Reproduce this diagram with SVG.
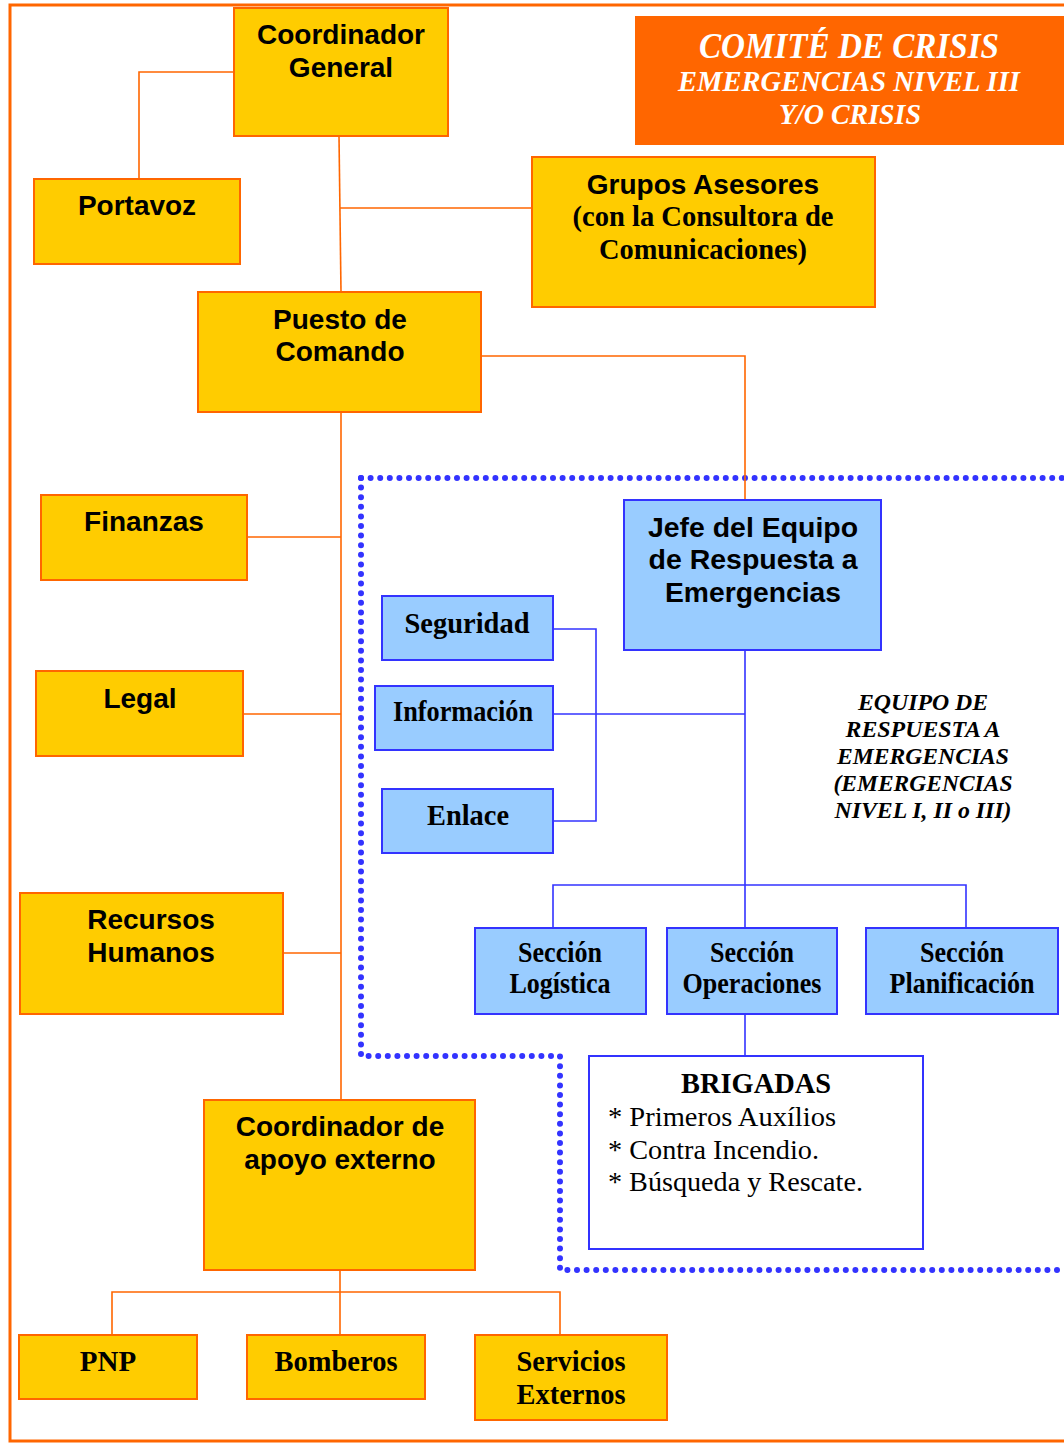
<svg xmlns="http://www.w3.org/2000/svg" width="1064" height="1443" viewBox="0 0 1064 1443">
<style>
.o{fill:#FFCC00;stroke:#FF6600;stroke-width:2}
.b{fill:#99CCFF;stroke:#3333FF;stroke-width:2}
.w{fill:#FFFFFF;stroke:#3333FF;stroke-width:2}
.oc{fill:none;stroke:#FF6600;stroke-width:1.6}
.bc{fill:none;stroke:#3333FF;stroke-width:1.6}
.dot{fill:none;stroke:#3333FF;stroke-width:6;stroke-linecap:round;stroke-dasharray:0 9.6}
.a{font-family:"Liberation Sans",Arial,sans-serif;font-weight:bold;font-size:28px;fill:#000;text-anchor:middle}
.t{font-family:"Liberation Serif","Times New Roman",serif;font-weight:bold;font-size:29px;fill:#000;text-anchor:middle}
.tr{font-family:"Liberation Serif","Times New Roman",serif;font-size:28px;fill:#000}
.ti{font-family:"Liberation Serif","Times New Roman",serif;font-weight:bold;font-style:italic;font-size:24px;fill:#000;text-anchor:middle}
.ch{font-family:"Liberation Serif","Times New Roman",serif;font-weight:bold;font-style:italic;fill:#FFFFFF;text-anchor:middle}
</style>
<rect x="10" y="5" width="1062" height="1436" fill="#FFFFFF" stroke="#FF6600" stroke-width="3"/>
<g id="region">
<path class="dot" d="M361 478 H1064"/>
<path class="dot" d="M361 478 V1056 H560 V1270 H1064"/>
</g>
<g id="connectors">
<path class="oc" d="M234 72 H139 V179"/>
<path class="oc" d="M339 136 L341 292"/>
<path class="oc" d="M340 208 H532"/>
<path class="oc" d="M481 356 H745 V500"/>
<path class="oc" d="M341 412 V1100"/>
<path class="oc" d="M247 537 H341"/>
<path class="oc" d="M243 714 H341"/>
<path class="oc" d="M283 953 H341"/>
<path class="oc" d="M340 1270 V1335"/>
<path class="oc" d="M112 1335 V1292 H560 V1335"/>
<path class="bc" d="M553 629 H596 V821 H553"/>
<path class="bc" d="M553 714 H745"/>
<path class="bc" d="M745 650 V928"/>
<path class="bc" d="M553 928 V885 H966 V928"/>
<path class="bc" d="M745 1014 V1056"/>
</g>
<g id="comite">
<rect x="635" y="16" width="440" height="129" fill="#FF6600"/>
<text class="ch" x="849" y="58" font-size="36" textLength="300" lengthAdjust="spacingAndGlyphs">COMITÉ DE CRISIS</text>
<text class="ch" x="849" y="91" font-size="30" textLength="342" lengthAdjust="spacingAndGlyphs">EMERGENCIAS NIVEL III</text>
<text class="ch" x="850" y="124" font-size="30" textLength="142" lengthAdjust="spacingAndGlyphs">Y/O CRISIS</text>
</g>
<g id="coordinador-general">
<rect class="o" x="234" y="8" width="214" height="128"/>
<text class="a" x="341" y="44">Coordinador</text>
<text class="a" x="341" y="77">General</text>
</g>
<g id="portavoz">
<rect class="o" x="34" y="179" width="206" height="85"/>
<text class="a" x="137" y="215">Portavoz</text>
</g>
<g id="grupos-asesores">
<rect class="o" x="532" y="157" width="343" height="150"/>
<text class="a" x="703" y="194">Grupos Asesores</text>
<text class="t" x="703" y="226" textLength="261" lengthAdjust="spacingAndGlyphs">(con la Consultora de</text>
<text class="t" x="703" y="259" textLength="208" lengthAdjust="spacingAndGlyphs">Comunicaciones)</text>
</g>
<g id="puesto-de-comando">
<rect class="o" x="198" y="292" width="283" height="120"/>
<text class="a" x="340" y="329">Puesto de</text>
<text class="a" x="340" y="361">Comando</text>
</g>
<g id="finanzas">
<rect class="o" x="41" y="495" width="206" height="85"/>
<text class="a" x="144" y="531">Finanzas</text>
</g>
<g id="legal">
<rect class="o" x="36" y="671" width="207" height="85"/>
<text class="a" x="140" y="708">Legal</text>
</g>
<g id="recursos-humanos">
<rect class="o" x="20" y="893" width="263" height="121"/>
<text class="a" x="151" y="929">Recursos</text>
<text class="a" x="151" y="962">Humanos</text>
</g>
<g id="coordinador-apoyo">
<rect class="o" x="204" y="1100" width="271" height="170"/>
<text class="a" x="340" y="1136">Coordinador de</text>
<text class="a" x="340" y="1169">apoyo externo</text>
</g>
<g id="pnp">
<rect class="o" x="19" y="1335" width="178" height="64"/>
<text class="t" x="108" y="1371">PNP</text>
</g>
<g id="bomberos">
<rect class="o" x="247" y="1335" width="178" height="64"/>
<text class="t" x="336" y="1371" textLength="123" lengthAdjust="spacingAndGlyphs">Bomberos</text>
</g>
<g id="servicios-externos">
<rect class="o" x="475" y="1335" width="192" height="85"/>
<text class="t" x="571" y="1371" textLength="109" lengthAdjust="spacingAndGlyphs">Servicios</text>
<text class="t" x="571" y="1404" textLength="109" lengthAdjust="spacingAndGlyphs">Externos</text>
</g>
<g id="jefe">
<rect class="b" x="624" y="500" width="257" height="150"/>
<text class="a" x="753" y="537" textLength="210" lengthAdjust="spacingAndGlyphs">Jefe del Equipo</text>
<text class="a" x="753" y="569" textLength="209" lengthAdjust="spacingAndGlyphs">de Respuesta a</text>
<text class="a" x="753" y="602" textLength="176" lengthAdjust="spacingAndGlyphs">Emergencias</text>
</g>
<g id="seguridad">
<rect class="b" x="382" y="596" width="171" height="64"/>
<text class="t" x="467" y="633" textLength="125" lengthAdjust="spacingAndGlyphs">Seguridad</text>
</g>
<g id="informacion">
<rect class="b" x="375" y="686" width="178" height="64"/>
<text class="t" x="463" y="721" textLength="140" lengthAdjust="spacingAndGlyphs">Información</text>
</g>
<g id="enlace">
<rect class="b" x="382" y="789" width="171" height="64"/>
<text class="t" x="468" y="825" textLength="82" lengthAdjust="spacingAndGlyphs">Enlace</text>
</g>
<g id="seccion-logistica">
<rect class="b" x="475" y="928" width="171" height="86"/>
<text class="t" x="560" y="962" font-size="26" textLength="84" lengthAdjust="spacingAndGlyphs">Sección</text>
<text class="t" x="560" y="993" font-size="26" textLength="101" lengthAdjust="spacingAndGlyphs">Logística</text>
</g>
<g id="seccion-operaciones">
<rect class="b" x="667" y="928" width="170" height="86"/>
<text class="t" x="752" y="962" font-size="26" textLength="84" lengthAdjust="spacingAndGlyphs">Sección</text>
<text class="t" x="752" y="993" font-size="26" textLength="139" lengthAdjust="spacingAndGlyphs">Operaciones</text>
</g>
<g id="seccion-planificacion">
<rect class="b" x="866" y="928" width="192" height="86"/>
<text class="t" x="962" y="962" font-size="26" textLength="84" lengthAdjust="spacingAndGlyphs">Sección</text>
<text class="t" x="962" y="993" font-size="26" textLength="145" lengthAdjust="spacingAndGlyphs">Planificación</text>
</g>
<g id="brigadas">
<rect class="w" x="589" y="1056" width="334" height="193"/>
<text class="t" x="756" y="1093" textLength="150" lengthAdjust="spacingAndGlyphs">BRIGADAS</text>
<text class="tr" x="608" y="1126" textLength="228" lengthAdjust="spacingAndGlyphs">* Primeros Auxílios</text>
<text class="tr" x="608" y="1159" textLength="211" lengthAdjust="spacingAndGlyphs">* Contra Incendio.</text>
<text class="tr" x="608" y="1191" textLength="255" lengthAdjust="spacingAndGlyphs">* Búsqueda y Rescate.</text>
</g>
<g id="equipo-label">
<text class="ti" x="923" y="710" textLength="130" lengthAdjust="spacingAndGlyphs">EQUIPO DE</text>
<text class="ti" x="923" y="737" textLength="155" lengthAdjust="spacingAndGlyphs">RESPUESTA A</text>
<text class="ti" x="923" y="764" textLength="172" lengthAdjust="spacingAndGlyphs">EMERGENCIAS</text>
<text class="ti" x="923" y="791" textLength="179" lengthAdjust="spacingAndGlyphs">(EMERGENCIAS</text>
<text class="ti" x="923" y="818" textLength="177" lengthAdjust="spacingAndGlyphs">NIVEL I, II o III)</text>
</g>
</svg>
